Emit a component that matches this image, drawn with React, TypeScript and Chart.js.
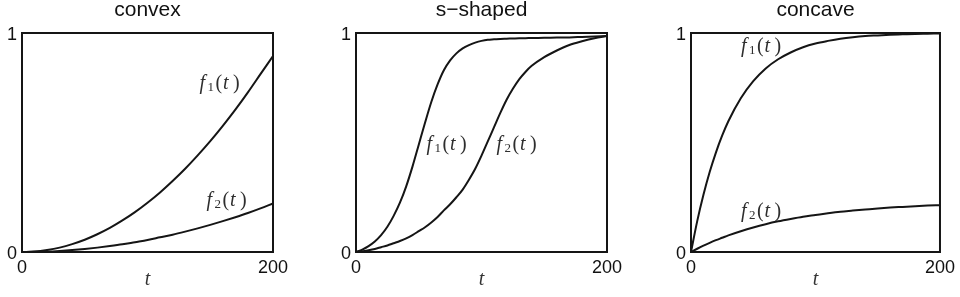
import React, { useEffect, useRef } from "react";
import { Chart, registerables } from "chart.js";

Chart.register(...registerables);

// ---- data ----
const T = [0, 10, 20, 30, 40, 50, 60, 70, 80, 90, 100, 110, 120, 130, 140, 150, 160, 170, 180, 190, 200];
const T_S = [0, 5, 10, 15, 20, 25, 30, 35, 40, 45, 50, 55, 60, 65, 70, 75, 80, 85, 90, 95, 100, 105, 110, 115, 120, 125, 130, 135, 140, 150, 160, 170, 180, 190, 200];
const T_CONCAVE = [0, 5, 10, 15, 20, 25, 30, 40, 50, 60, 70, 80, 90, 100, 110, 120, 130, 140, 150, 160, 170, 180, 190, 200];

const convexF1 = [0, 0.002, 0.009, 0.02, 0.036, 0.056, 0.081, 0.11, 0.144, 0.182, 0.225, 0.272, 0.324, 0.38, 0.441, 0.506, 0.576, 0.65, 0.729, 0.812, 0.895];
const convexF2 = [0, 0.0006, 0.002, 0.005, 0.009, 0.014, 0.02, 0.027, 0.035, 0.045, 0.055, 0.067, 0.079, 0.093, 0.108, 0.124, 0.141, 0.159, 0.178, 0.199, 0.222];

const sShapedF1 = [0, 0.011, 0.027, 0.048, 0.077, 0.115, 0.165, 0.225, 0.3, 0.39, 0.49, 0.59, 0.685, 0.765, 0.83, 0.875, 0.907, 0.93, 0.945, 0.956, 0.964, 0.969, 0.971, 0.973, 0.974, 0.975, 0.976, 0.9765, 0.977, 0.978, 0.979, 0.98, 0.982, 0.984, 0.986];
const sShapedF2 = [0, 0.003, 0.008, 0.014, 0.022, 0.03, 0.04, 0.05, 0.062, 0.077, 0.095, 0.113, 0.135, 0.16, 0.19, 0.218, 0.25, 0.285, 0.33, 0.38, 0.44, 0.505, 0.57, 0.635, 0.695, 0.745, 0.788, 0.822, 0.85, 0.89, 0.92, 0.945, 0.962, 0.976, 0.986];

const concaveF1 = [0, 0.141, 0.261, 0.365, 0.454, 0.531, 0.597, 0.702, 0.78, 0.838, 0.88, 0.911, 0.935, 0.952, 0.964, 0.974, 0.981, 0.986, 0.989, 0.992, 0.994, 0.996, 0.997, 0.998];
const concaveF2 = [0, 0.0148, 0.029, 0.042, 0.054, 0.065, 0.076, 0.095, 0.112, 0.127, 0.14, 0.151, 0.161, 0.169, 0.177, 0.184, 0.189, 0.194, 0.199, 0.203, 0.206, 0.209, 0.212, 0.214];

const X_TICKS = [0, 200];
const Y_TICKS = [0, 1];
const TITLES = ["convex", "s\u2212shaped", "concave"];
const X_TITLE = "t";

type LabelSpec = { sub: string; t: number; v: number };
type PanelSpec = {
  title: string;
  t: number[];
  f1: number[];
  f2: number[];
  left: number;
  width: number;
  yAxisW: number;
  padRight: number;
  labels: LabelSpec[];
};

const PANELS: PanelSpec[] = [
  {
    title: TITLES[0], t: T, f1: convexF1, f2: convexF2,
    left: 0, width: 310, yAxisW: 22, padRight: 37,
    labels: [{ sub: "1", t: 140.2, v: 0.746 }, { sub: "2", t: 145.8, v: 0.212 }],
  },
  {
    title: TITLES[1], t: T_S, f1: sShapedF1, f2: sShapedF2,
    left: 320, width: 320, yAxisW: 36, padRight: 33,
    labels: [{ sub: "1", t: 55, v: 0.466 }, { sub: "2", t: 110.8, v: 0.466 }],
  },
  {
    title: TITLES[2], t: T_CONCAVE, f1: concaveF1, f2: concaveF2,
    left: 650, width: 310, yAxisW: 41, padRight: 18,
    labels: [{ sub: "1", t: 39, v: 0.915 }, { sub: "2", t: 39, v: 0.161 }],
  },
];

const HEIGHT = 297;
const SANS = '"Liberation Sans", Arial, Helvetica, sans-serif';
const SERIF = '"Liberation Serif", "Times New Roman", serif';
const INK = "#151515";
const LABEL_INK = "#2e2e2e";

function drawMathLabel(ctx: CanvasRenderingContext2D, x: number, baseline: number, sub: string) {
  const size = 20;
  ctx.save();
  ctx.fillStyle = LABEL_INK;
  ctx.textAlign = "left";
  ctx.textBaseline = "alphabetic";
  ctx.font = `italic ${size}px ${SERIF}`;
  ctx.fillText("f", x + 1.5, baseline);
  ctx.font = `13px ${SERIF}`;
  ctx.fillText(sub, x + 9.5, baseline + 2.5);
  ctx.font = `${size}px ${SERIF}`;
  ctx.fillText("(", x + 17.5, baseline);
  ctx.font = `italic ${size}px ${SERIF}`;
  ctx.fillText("t", x + 25, baseline);
  ctx.font = `${size}px ${SERIF}`;
  ctx.fillText(")", x + 35, baseline);
  ctx.restore();
}

function PanelChart({ spec }: { spec: PanelSpec }) {
  const ref = useRef<HTMLCanvasElement | null>(null);
  useEffect(() => {
    const canvas = ref.current;
    if (!canvas) return;

    const framePlugin = {
      id: "frameBox",
      afterDatasetsDraw(chart: any) {
        const { ctx, chartArea: a } = chart;
        ctx.save();
        ctx.strokeStyle = INK;
        ctx.lineWidth = 2;
        ctx.strokeRect(a.left, a.top, a.right - a.left, a.bottom - a.top);
        ctx.restore();
      },
    };

    const labelPlugin = {
      id: "curveLabels",
      afterDraw(chart: any) {
        const { ctx } = chart;
        const xs = chart.scales.x;
        const ys = chart.scales.y;
        spec.labels.forEach((l) => {
          drawMathLabel(ctx, xs.getPixelForValue(l.t), ys.getPixelForValue(l.v), l.sub);
        });
      },
    };

    const mk = (vals: number[]) => spec.t.map((x, i) => ({ x, y: vals[i] }));

    const chart = new Chart(canvas, {
      type: "line",
      data: {
        datasets: [
          {
            data: mk(spec.f1),
            borderColor: INK,
            borderWidth: 2,
            pointRadius: 0,
            fill: false,
            cubicInterpolationMode: "monotone",
          },
          {
            data: mk(spec.f2),
            borderColor: INK,
            borderWidth: 2,
            pointRadius: 0,
            fill: false,
            cubicInterpolationMode: "monotone",
          },
        ],
      },
      options: {
        animation: false,
        responsive: false,
        devicePixelRatio: 1,
        layout: { padding: { left: 0, right: spec.padRight, top: 0, bottom: 0 } },
        plugins: {
          legend: { display: false },
          tooltip: { enabled: false },
          title: {
            display: true,
            text: spec.title,
            fullSize: false,
            color: "#111",
            font: { family: SANS, size: 21, weight: "normal", lineHeight: 1 },
            padding: { top: 0, bottom: 12 },
          },
        },
        scales: {
          x: {
            type: "linear",
            min: 0,
            max: 200,
            afterBuildTicks: (s: any) => {
              s.ticks = X_TICKS.map((value) => ({ value }));
            },
            afterFit: (s: any) => {
              s.height = 45;
            },
            grid: { display: false, drawTicks: false },
            border: { display: false },
            ticks: {
              padding: 5,
              color: "#111",
              maxRotation: 0,
              autoSkip: false,
              font: { family: SANS, size: 18 },
            },
            title: {
              display: true,
              text: X_TITLE,
              color: "#333",
              font: { family: SERIF, size: 20, style: "italic", lineHeight: 1.2 },
              padding: { top: 0, bottom: 5 },
            },
          },
          y: {
            type: "linear",
            min: 0,
            max: 1,
            afterBuildTicks: (s: any) => {
              s.ticks = Y_TICKS.map((value) => ({ value }));
            },
            afterFit: (s: any) => {
              s.width = spec.yAxisW;
            },
            grid: { display: false, drawTicks: false },
            border: { display: false },
            ticks: {
              padding: 5,
              labelOffset: 2.5,
              color: "#111",
              autoSkip: false,
              font: { family: SANS, size: 18 },
            },
          },
        },
      },
      plugins: [framePlugin, labelPlugin],
    } as any);

    return () => chart.destroy();
  }, [spec]);

  return (
    <canvas
      ref={ref}
      width={spec.width}
      height={HEIGHT}
      style={{ position: "absolute", left: spec.left, top: 0, width: spec.width, height: HEIGHT }}
    />
  );
}

export default function App() {
  return (
    <div
      style={{
        position: "fixed",
        left: 0,
        top: 0,
        width: 960,
        height: HEIGHT,
        background: "#fff",
        overflow: "hidden",
      }}
    >
      {PANELS.map((p, i) => (
        <PanelChart key={i} spec={p} />
      ))}
    </div>
  );
}
